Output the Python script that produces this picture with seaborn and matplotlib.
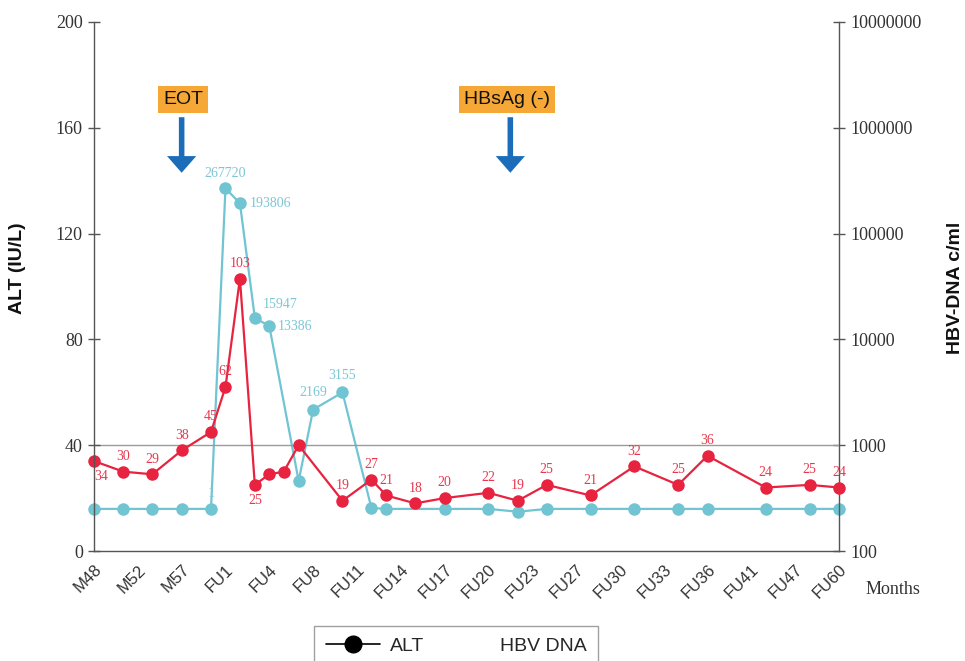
import numpy as np
import pandas as pd
import matplotlib
matplotlib.use('Agg')
import matplotlib.pyplot as plt
from matplotlib.lines import Line2D
from matplotlib.ticker import FixedLocator, FuncFormatter, NullLocator
import seaborn as sns

# tick labels (equally spaced categories) and sample positions between them
tick_labels = ['M48', 'M52', 'M57', 'FU1', 'FU4', 'FU8', 'FU11', 'FU14', 'FU17',
               'FU20', 'FU23', 'FU27', 'FU30', 'FU33', 'FU36', 'FU41', 'FU47', 'FU60']

# ALT (IU/L)
alt_x = [0, 0.67, 1.33, 2, 2.67, 3, 3.33, 3.67, 4, 4.33, 4.67, 5.67, 6.33, 6.67,
         7.33, 8, 9, 9.67, 10.33, 11.33, 12.33, 13.33, 14, 15.33, 16.33, 17]
alt = [34, 30, 29, 38, 45, 62, 103, 25, 29, 30, 40, 19, 27, 21,
       18, 20, 22, 19, 25, 21, 32, 25, 36, 24, 25, 24]
alt_text = ['34', '30', '29', '38', '45', '62', '103', '25', '', '', '', '19', '27', '21',
            '18', '20', '22', '19', '25', '21', '32', '25', '36', '24', '25', '24']

# HBV DNA (c/ml)
hbv_x = [0, 0.67, 1.33, 2, 2.67, 3, 3.33, 3.67, 4, 4.67, 5, 5.67, 6.33, 6.67,
         8, 9, 9.67, 10.33, 11.33, 12.33, 13.33, 14, 15.33, 16.33, 17]
hbv = [250, 250, 250, 250, 250, 267720, 193806, 15947, 13386, 460, 2169, 3155, 255, 250,
       250, 250, 235, 250, 250, 250, 250, 250, 250, 250, 250]
hbv_text = {4: '1', 5: '267720', 6: '193806', 7: '15947', 8: '13386', 10: '2169', 11: '3155'}

events = ['EOT', 'HBsAg (-)']
event_x = [2.0, 9.5]
event_box_x = [2.03, 9.43]

red = '#E8233F'
red_txt = '#E8384F'
cyan = '#71C4D2'
cyan_txt = '#7CC6D5'
arrow_blue = '#1B6DB9'
box_orange = '#F5A836'

sns.set_style('white')
plt.rcParams['font.family'] = ['Liberation Serif', 'DejaVu Serif']

fig = plt.figure(figsize=(9.65, 6.61), dpi=100)
ax = fig.add_axes([94 / 965, 1 - 551 / 661, (839 - 94) / 965, (551 - 22) / 661])
ax2 = ax.twinx()

df_alt = pd.DataFrame({'x': alt_x, 'ALT': alt})
df_hbv = pd.DataFrame({'x': hbv_x, 'HBV': hbv})

ax2.set_yscale('log')
sns.lineplot(data=df_hbv, x='x', y='HBV', ax=ax2, color=cyan, marker='o', markersize=9,
             markeredgewidth=0, linewidth=1.6, clip_on=False)
sns.lineplot(data=df_alt, x='x', y='ALT', ax=ax, color=red, marker='o', markersize=9,
             markeredgewidth=0, linewidth=1.6, clip_on=False)

# ALT axis on top of the DNA axis
ax.set_zorder(ax2.get_zorder() + 1)
ax.patch.set_visible(False)

ax.axhline(40, color='#9a9a9a', linewidth=1.0, zorder=0)

ax.set_xlim(0, 17)
ax.set_ylim(0, 200)
ax2.set_ylim(100, 1e7)
ax.set_yticks([0, 40, 80, 120, 160, 200])
ax2.yaxis.set_major_locator(FixedLocator([1e2, 1e3, 1e4, 1e5, 1e6, 1e7]))
ax2.yaxis.set_minor_locator(NullLocator())
ax2.yaxis.set_major_formatter(FuncFormatter(lambda v, p: '%d' % round(v)))

ax.set_xticks(range(len(tick_labels)))
ax.set_xticklabels(tick_labels, rotation=45, ha='right', va='top', rotation_mode='anchor',
                   family='Liberation Sans', fontsize=12, color='#333333')
ax.set_xlabel('')
ax.set_ylabel('')
ax2.set_ylabel('')

spine_c = '#555555'
for a in (ax, ax2):
    for s in a.spines.values():
        s.set_color(spine_c)
        s.set_linewidth(1.0)
    a.spines['top'].set_visible(False)
ax.spines['right'].set_visible(False)
ax2.spines['left'].set_visible(False)
ax2.spines['bottom'].set_visible(False)

ax.tick_params(axis='both', direction='inout', length=8, width=1, color=spine_c)
ax.tick_params(axis='y', labelsize=13, labelcolor='#333333', pad=4)
ax.tick_params(axis='x', pad=4)
ax2.tick_params(axis='y', direction='inout', length=8, width=1, color=spine_c,
                labelsize=13, labelcolor='#333333', pad=4)

# value labels
for xv, yv, t in zip(alt_x, alt, alt_text):
    if not t:
        continue
    dy = 11
    if t == '34' and xv == 0:
        ax.annotate(t, (xv, yv), xytext=(5, -11), textcoords='offset points',
                    ha='center', va='center', fontsize=10, color=red_txt, zorder=5)
        continue
    if t == '25' and xv == 3.67:
        dy = -11
    ax.annotate(t, (xv, yv), xytext=(0, dy), textcoords='offset points',
                ha='center', va='center', fontsize=10, color=red_txt, zorder=5)

hbv_off = {4: (0, 11, 'center'), 5: (0, 11, 'center'), 6: (7, 0, 'left'),
           7: (6, 10, 'left'), 8: (6, 0, 'left'), 10: (0, 12, 'center'), 11: (0, 12, 'center')}
for i, t in hbv_text.items():
    dx, dy, ha = hbv_off[i]
    ax2.annotate(t, (hbv_x[i], hbv[i]), xytext=(dx, dy), textcoords='offset points',
                 ha=ha, va='center', fontsize=10, color=cyan_txt)

# event markers
for name, ex, bx in zip(events, event_x, event_box_x):
    ax.annotate('', xy=(ex, 143), xytext=(ex, 164),
                arrowprops=dict(width=4, headwidth=21, headlength=12, shrink=0,
                                color=arrow_blue, linewidth=0))
    ax.text(bx, 170.7, name, ha='center', va='center', family='Liberation Sans',
            fontsize=14, color='#111111',
            bbox=dict(boxstyle='square,pad=0.25', fc=box_orange, ec='none'))

fig.text(18 / 965, 1 - 268 / 661, 'ALT (IU/L)', rotation=90, ha='center', va='center',
         family='Liberation Sans', fontweight='bold', fontsize=14, color='#111111')
fig.text(955 / 965, 1 - 288 / 661, 'HBV-DNA c/ml', rotation=90, ha='center', va='center',
         family='Liberation Sans', fontweight='bold', fontsize=14, color='#111111')
fig.text(893 / 965, 1 - 590 / 661, 'Months', ha='center', va='center', fontsize=13,
         color='#333333')

handles = [Line2D([0], [0], color='black', marker='o', markersize=12, linewidth=1.2),
           Line2D([0], [0], color='none')]
leg = fig.legend(handles, ['ALT', 'HBV DNA'], ncol=2, loc='upper left',
                 bbox_to_anchor=(314 / 965, 1 - 626 / 661), borderaxespad=0,
                 frameon=True, fancybox=False, edgecolor='#888888', handlelength=2.8,
                 handletextpad=0.5, columnspacing=0.6, borderpad=0.6,
                 prop={'family': 'Liberation Sans', 'size': 14})
leg.get_frame().set_linewidth(1.0)

fig.savefig('out.png', dpi=100)
